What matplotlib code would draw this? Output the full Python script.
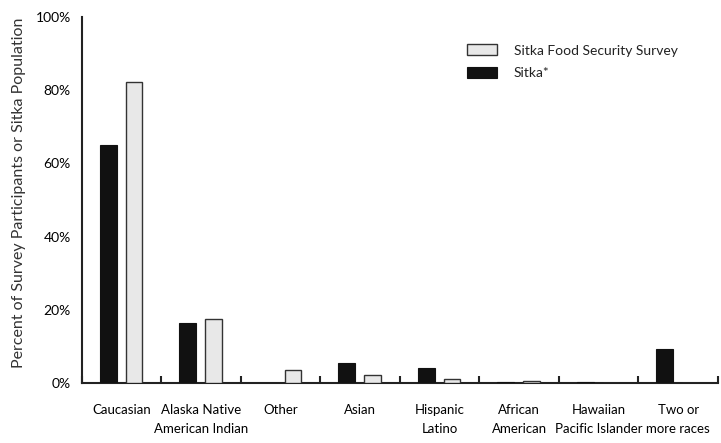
import matplotlib
matplotlib.use("Agg")
from matplotlib import pyplot as plt
import numpy as np

categories = ["Caucasian", "Alaska Native\nAmerican Indian", "Other", "Asian",
              "Hispanic\nLatino", "African\nAmerican", "Hawaiian\nPacific Islander",
              "Two or\nmore races"]
sitka = [65.0, 16.4, 0.0, 5.4, 4.2, 0.4, 0.2, 9.2]
survey = [82.2, 17.6, 3.6, 2.2, 1.2, 0.5, 0.0, 0.0]
yticks = [0, 20, 40, 60, 80, 100]

plt.rcParams['font.family'] = ['Lato', 'DejaVu Sans']
plt.rcParams['text.color'] = '#222222'

fig = plt.figure(figsize=(7.21, 4.43), dpi=100)
ax = fig.add_axes([0.1137, 0.1354, 0.8821, 0.8262])

x = np.arange(len(categories)) + 0.5
w = 0.21
ax.bar(x - 0.17, sitka, w, color='#111111', edgecolor='#111111', lw=0.8,
       label='Sitka*', zorder=3)
ax.bar(x + 0.155, survey, w, color='#e8e8e8', edgecolor='#333333', lw=1.0,
       label='Sitka Food Security Survey', zorder=3)

ax.set_xlim(0, len(categories))
ax.set_ylim(0, 100)

for s in ['top', 'right']:
    ax.spines[s].set_visible(False)
for s in ['left', 'bottom']:
    ax.spines[s].set_linewidth(1.5)
    ax.spines[s].set_color('#222222')

ax.set_yticks(yticks)
ax.set_yticklabels(["%d%%" % v for v in yticks], fontsize=10)
ax.tick_params(axis='y', length=0, pad=8)

ax.set_xticks(np.arange(len(categories) + 1))
ax.set_xticklabels([])
ax.tick_params(axis='x', direction='in', length=5, width=1.5, color='#222222')
ax.set_xticks(x, minor=True)
ax.set_xticklabels(categories, minor=True, fontsize=9.5, linespacing=1.75,
                   va='top')
ax.tick_params(axis='x', which='minor', length=0, pad=15)

ax.set_ylabel('Percent of Survey Participants or Sitka Population',
              fontsize=11.5, color='#333333')
ax.yaxis.set_label_coords(-0.088, 0.52)

handles, labels = ax.get_legend_handles_labels()
ax.legend(handles[::-1], labels[::-1], loc='upper left',
          bbox_to_anchor=(0.605, 0.925), frameon=False, fontsize=10,
          handlelength=2.2, handleheight=0.8, handletextpad=1.2,
          labelspacing=0.75, borderpad=0, borderaxespad=0)

fig.savefig('out.png', dpi=100)
